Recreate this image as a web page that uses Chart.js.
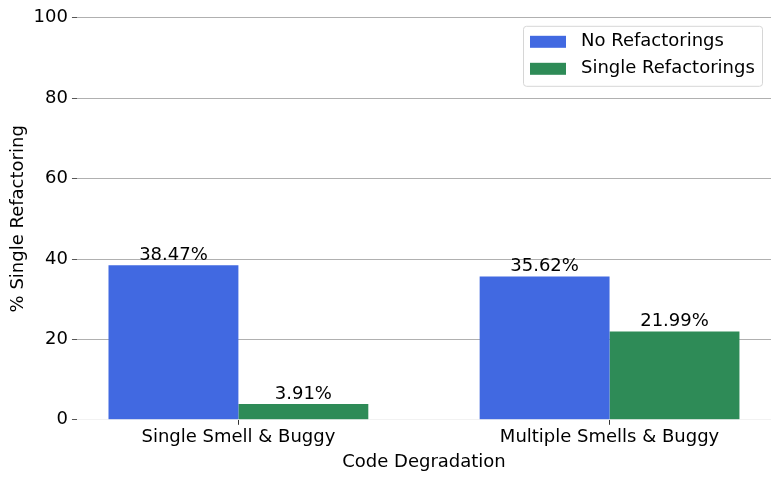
<!DOCTYPE html>
<html>
<head>
<meta charset="utf-8">
<script src="https://cdn.jsdelivr.net/npm/chart.js@4"></script>
<style>
  html, body { margin: 0; padding: 0; background: #fff; }
  #wrap { width: 781px; height: 477px; padding-top: 3px; }
</style>
</head>
<body>
<div id="wrap"><canvas id="refactorChart"></canvas></div>
<script>
// chart data
const categories = ['Single Smell & Buggy', 'Multiple Smells & Buggy'];
const seriesNames = ['No Refactorings', 'Single Refactorings'];
const noRefactorings = [38.47, 35.62];
const singleRefactorings = [3.91, 21.99];
const yTicks = [0, 20, 40, 60, 80, 100];

const colors = ['#4169E1', '#2E8B57'];
const FONT = 'DejaVu Sans';
const FS = 18;

// value labels above each bar
const barLabels = {
  id: 'barLabels',
  afterDatasetsDraw(chart) {
    const ctx = chart.ctx;
    ctx.save();
    ctx.font = FS + 'px "' + FONT + '"';
    ctx.fillStyle = '#000';
    ctx.textAlign = 'center';
    ctx.textBaseline = 'bottom';
    chart.data.datasets.forEach((ds, i) => {
      chart.getDatasetMeta(i).data.forEach((bar, j) => {
        ctx.fillText(ds.data[j].y.toFixed(2) + '%', bar.x, bar.y - 1);
      });
    });
    ctx.restore();
  }
};

// matplotlib-like legend box in the upper right corner
const boxLegend = {
  id: 'boxLegend',
  afterDraw(chart) {
    const ctx = chart.ctx;
    const area = chart.chartArea;
    const w = 239, h = 60;
    const x = area.right - 9 - w, y = area.top + 8;
    ctx.save();
    ctx.fillStyle = 'rgba(255,255,255,0.85)';
    ctx.strokeStyle = '#d6d6d6';
    ctx.lineWidth = 1;
    ctx.beginPath();
    ctx.roundRect(x + 0.5, y + 0.5, w, h, 3);
    ctx.fill();
    ctx.stroke();
    ctx.font = FS + 'px "' + FONT + '"';
    ctx.textBaseline = 'middle';
    ctx.textAlign = 'left';
    chart.data.datasets.forEach((ds, i) => {
      const cy = y + 16 + i * 27;
      ctx.fillStyle = ds.backgroundColor;
      ctx.fillRect(x + 7, cy - 6, 36, 12);
      ctx.fillStyle = '#000';
      ctx.fillText(ds.label, x + 58, cy);
    });
    ctx.restore();
  }
};

const ctx = document.getElementById('refactorChart').getContext('2d');
new Chart(ctx, {
  type: 'bar',
  data: {
    datasets: [
      {
        label: seriesNames[0],
        data: noRefactorings.map((v, i) => ({ x: i, y: v })),
        backgroundColor: colors[0]
      },
      {
        label: seriesNames[1],
        data: singleRefactorings.map((v, i) => ({ x: i, y: v })),
        backgroundColor: colors[1]
      }
    ]
  },
  options: {
    responsive: true,
    maintainAspectRatio: false,
    animation: false,
    categoryPercentage: 0.7,
    barPercentage: 1.0,
    layout: { padding: { top: 10, right: 10, left: 8, bottom: 7 } },
    plugins: {
      legend: { display: false },
      tooltip: { enabled: false }
    },
    scales: {
      x: {
        type: 'linear',
        offset: false,
        min: -0.435,
        max: 1.435,
        afterBuildTicks: (scale) => { scale.ticks = categories.map((c, i) => ({ value: i })); },
        ticks: {
          callback: (v) => categories[v],
          color: '#000',
          font: { family: FONT, size: FS },
          padding: 2,
          maxRotation: 0,
          autoSkip: false
        },
        grid: {
          offset: false,
          drawOnChartArea: false,
          drawTicks: true,
          tickLength: 5,
          tickColor: '#333'
        },
        border: { display: false },
        title: {
          display: true,
          text: 'Code Degradation',
          color: '#000',
          font: { family: FONT, size: FS },
          padding: { top: 1, bottom: 0 }
        }
      },
      y: {
        min: 0,
        max: 100,
        afterBuildTicks: (scale) => { scale.ticks = yTicks.map(v => ({ value: v })); },
        ticks: {
          color: '#000',
          font: { family: FONT, size: FS },
          padding: 4
        },
        grid: {
          color: (c) => (c.tick && c.tick.value === 0) ? '#f2f2f2' : '#b0b0b0',
          tickColor: '#555',
          tickLength: 5,
          lineWidth: 1
        },
        border: { display: false },
        title: {
          display: true,
          text: '% Single Refactoring',
          color: '#000',
          font: { family: FONT, size: FS },
          padding: { top: 0, bottom: 0 }
        }
      }
    }
  },
  plugins: [barLabels, boxLegend]
});
</script>
</body>
</html>
